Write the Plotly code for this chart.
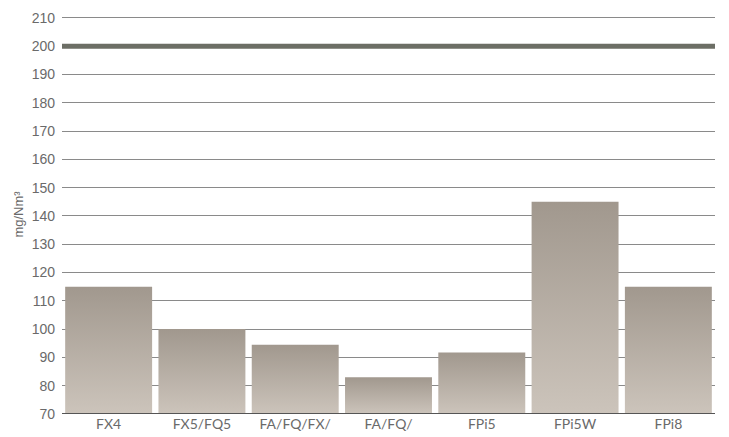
import plotly.graph_objects as go

# Emission values per burner model (mg/Nm³)
categories = ["FX4", "FX5/FQ5", "FA/FQ/FX/", "FA/FQ/", "FPi5", "FPi5W", "FPi8"]
values = [115, 100, 94.5, 83, 91.7, 145, 115]
limit_value = 200
y_ticks = list(range(70, 211, 10))

BASE = 70
HALF_WIDTH = 0.466
TOP_COLOR = "#a1988e"
BOTTOM_COLOR = "#ccc4bb"
TEXT_COLOR = "#6a6a6a"
FONT = "Liberation Sans, Arial, sans-serif"

fig = go.Figure()

# Each bar is a filled rectangle with a vertical gradient (dark at top)
for i, (cat, val) in enumerate(zip(categories, values)):
    xs = [i - HALF_WIDTH, i + HALF_WIDTH, i + HALF_WIDTH, i - HALF_WIDTH, i - HALF_WIDTH]
    ys = [BASE, BASE, val, val, BASE]
    fig.add_trace(go.Scatter(
        x=xs, y=ys, mode="lines", fill="toself",
        line=dict(width=0, color=TOP_COLOR),
        fillgradient=dict(type="vertical",
                          colorscale=[[0, BOTTOM_COLOR], [1, TOP_COLOR]]),
        name=cat, hoverinfo="text", text=f"{cat}: {val}",
        showlegend=False,
    ))

# Emission limit line
fig.add_shape(type="line", xref="paper", yref="y",
              x0=0, x1=1, y0=limit_value, y1=limit_value,
              line=dict(color="#6c6e65", width=5), layer="above")

# Darker baseline at the bottom of the value axis
fig.add_shape(type="line", xref="paper", yref="y",
              x0=0, x1=1, y0=BASE, y1=BASE,
              line=dict(color="#555555", width=2), layer="above")

fig.update_layout(
    template="none",
    width=729, height=437,
    margin=dict(l=62, r=14, t=15, b=23),
    plot_bgcolor="white", paper_bgcolor="white",
    font=dict(family=FONT, color=TEXT_COLOR, size=12),
    xaxis=dict(
        range=[-0.5, len(categories) - 0.5],
        tickvals=list(range(len(categories))), ticktext=categories,
        showgrid=False, zeroline=False,
        showline=False, ticks="",
        ticklabelstandoff=0,
        tickfont=dict(family="Lato, Liberation Sans, sans-serif", size=14, color=TEXT_COLOR),
    ),
    yaxis=dict(
        range=[70, 211], tickvals=y_ticks,
        showgrid=True, gridcolor="#8a8a8a", gridwidth=1,
        zeroline=False, showline=False, ticks="",
        ticklabelstandoff=6,
        tickfont=dict(family=FONT, size=14, color=TEXT_COLOR),
        title=dict(text="mg/Nm³", standoff=5,
                   font=dict(family=FONT, size=13, color=TEXT_COLOR)),
    ),
)

fig.write_html("out.html")
